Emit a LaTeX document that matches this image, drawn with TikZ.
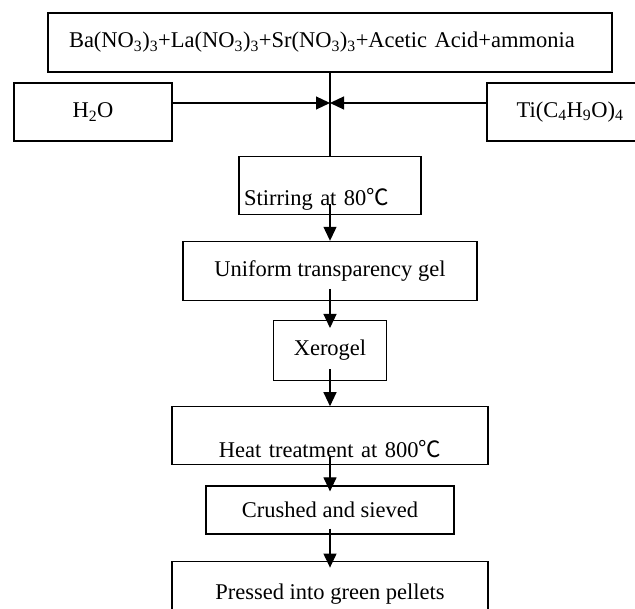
\documentclass[tikz,border=0pt]{standalone}
\usepackage{fontspec}
\setmainfont{Liberation Serif}
\newfontfamily\cjk{Noto Sans CJK SC}
\usepackage{tikz}
\usetikzlibrary{arrows.meta,positioning}

\begin{document}
\begin{tikzpicture}[
  x=1pt, y=-1pt,
  box/.style={draw, line width=1.2pt, inner sep=3pt, align=center, font={\fontsize{22.5}{27}\selectfont}},
  arr/.style={-{Triangle[length=14pt,width=13pt]}, line width=1.2pt}
]
  \useasboundingbox (0,0) rectangle (635,609);
  \node[box, inner xsep=21pt, text width=522pt, minimum height=59pt, align=left] (mix) at (330,42.5)
    {Ba(NO\textsubscript{3})\textsubscript{3}+La(NO\textsubscript{3})\textsubscript{3}+Sr(NO\textsubscript{3})\textsubscript{3}+Acetic Acid+ammonia};
  \node[box, minimum width=158pt, minimum height=58pt] (water) at (93,112) {H\textsubscript{2}O};
  \node[box, minimum width=166pt, minimum height=58pt] (tbt) at (570,112) {Ti(C\textsubscript{4}H\textsubscript{9}O)\textsubscript{4}};
  \node[box, below=83pt of mix, inner xsep=5pt, text width=172pt, text height=46pt, text depth=6pt, align=left] (stir) {Stirring at 80{\cjk ℃}};
  \node[box, below=26pt of stir, minimum width=294pt, minimum height=59pt] (gel) {Uniform transparency gel};
  \node[box, below=19pt of gel, minimum width=113pt, minimum height=60pt] (xero) {Xerogel};
  \node[box, below=25pt of xero, inner xsep=5pt, text width=306pt, text height=48pt, text depth=5pt, inner ysep=2.5pt] (heat) {Heat treatment at 800{\cjk ℃}};
  \node[box, below=20pt of heat, minimum width=248pt, minimum height=48pt] (crush) {Crushed and sieved};
  \node[box, below=26pt of crush, minimum width=316pt, minimum height=66pt] (press) {Pressed into green pellets};
  \coordinate (meet) at (330,103);
  \draw[line width=1.2pt] (mix) -- (stir);
  \draw[arr] (water.east |- meet) -- (meet);
  \draw[arr] (tbt.west |- meet) -- (meet);
  \draw[arr] ([yshift=11pt]stir.south) -- (gel.north);
  \draw[arr] ([yshift=12pt]gel.south) -- ([yshift=-8pt]xero.north);
  \draw[arr] ([yshift=12pt]xero.south) -- (heat.north);
  \draw[arr] ([yshift=8pt]heat.south) -- ([yshift=-6pt]crush.north);
  \draw[arr] ([yshift=6pt]crush.south) -- ([yshift=-7pt]press.north);
\end{tikzpicture}
\end{document}
